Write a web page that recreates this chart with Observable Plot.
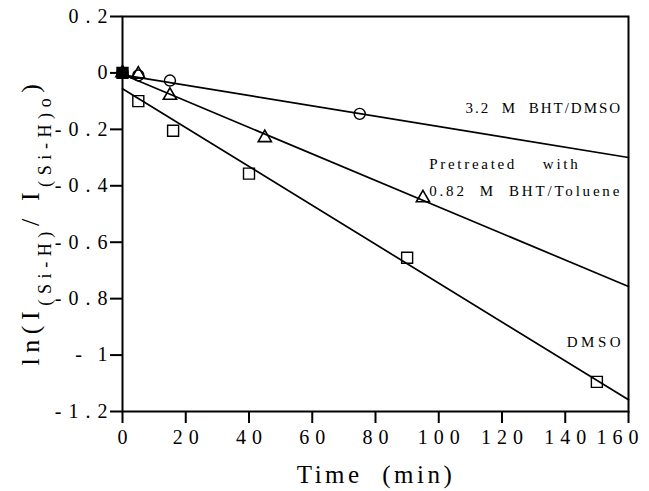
<!DOCTYPE html>
<html>
<head>
<meta charset="utf-8">
<script src="https://cdn.jsdelivr.net/npm/d3@7"></script>
<script src="https://cdn.jsdelivr.net/npm/@observablehq/plot@0.6"></script>
<style>
  html, body { margin: 0; padding: 0; background: #fff; }
</style>
</head>
<body>
<div id="chart"></div>
<script>
// Si-H decay: ln(I/I0) versus exposure time, three treatments
const squareTime = [0, 5, 16, 40, 90, 150];          // DMSO
const squareValue = [0, -0.10, -0.205, -0.357, -0.655, -1.095];
const triangleTime = [0, 5, 15, 45, 95];              // pretreated, 0.82 M BHT/Toluene
const triangleValue = [0, -0.005, -0.08, -0.23, -0.443];
const circleTime = [0, 5, 15, 75];                    // 3.2 M BHT/DMSO
const circleValue = [0, -0.009, -0.027, -0.145];

// least-squares fit lines: intercept + slope * t
const fitNames = ["BHT/DMSO", "BHT/Toluene", "DMSO"];
const fitIntercepts = [-0.007, -0.005, -0.056];
const fitSlopes = [-0.00183, -0.0047, -0.00689];
const fitRange = [0, 160];

const xTicks = [0, 20, 40, 60, 80, 100, 120, 140, 160];
const yTicks = [0.2, 0, -0.2, -0.4, -0.6, -0.8, -1, -1.2];
const yTickLabels = ["0.2", "0", "-0.2", "-0.4", "-0.6", "-0.8", "-\u200a1", "-1.2"];

const SERIF = "'Liberation Serif', 'DejaVu Serif', serif";

const toRows = (ts, vs) => ts.map((t, i) => ({t, v: vs[i]}));
const squares = toRows(squareTime, squareValue);
const triangles = toRows(triangleTime, triangleValue);
const circles = toRows(circleTime, circleValue);
const fits = fitNames.flatMap((name, k) =>
  fitRange.map(t => ({name, t, v: fitIntercepts[k] + fitSlopes[k] * t})));

const svg = Plot.plot({
  width: 649,
  height: 491,
  marginLeft: 122,
  marginRight: 21,
  marginTop: 16,
  marginBottom: 80,
  style: {background: "white", color: "black", overflow: "visible", fontFamily: SERIF},
  x: {domain: [0, 160]},
  y: {domain: [-1.2, 0.2]},
  marks: [
    Plot.frame({stroke: "black", strokeWidth: 2}),
    Plot.axisY(yTicks, {
      tickSize: 12, strokeWidth: 2, tickPadding: -4, fontSize: 20, label: null,
      tickFormat: d => yTickLabels[yTicks.indexOf(d)]
    }),
    Plot.axisX(xTicks, {
      tickSize: 12, strokeWidth: 2, tickPadding: 6, fontSize: 20, label: null,
      tickFormat: d => String(d)
    }),
    Plot.line(fits, {x: "t", y: "v", z: "name", stroke: "black", strokeWidth: 1.7}),
    Plot.dot(circles, {x: "t", y: "v", symbol: "circle", r: 5.5, stroke: "black", strokeWidth: 1.4, fill: "none"}),
    Plot.dot(triangles, {x: "t", y: "v", symbol: "triangle", r: 4.9, stroke: "black", strokeWidth: 1.6, fill: "none"}),
    Plot.dot(squares, {x: "t", y: "v", symbol: "square", r: 6.2, stroke: "black", strokeWidth: 1.4,
      fill: (d, i) => i === 0 ? "black" : "none"}),
    Plot.text(["3.2\u00a0\u00a0M\u00a0\u00a0BHT/DMSO"], {x: 158, y: -0.126, text: d => d, textAnchor: "end", fontSize: 15}),
    Plot.text(["Pretreated\u00a0\u00a0\u00a0\u00a0with"], {x: 97, y: -0.324, text: d => d, textAnchor: "start", fontSize: 15}),
    Plot.text(["0.82\u00a0\u00a0M\u00a0\u00a0BHT/Toluene"], {x: 97, y: -0.419, text: d => d, textAnchor: "start", fontSize: 15}),
    Plot.text(["DMSO"], {x: 158.6, y: -0.955, text: d => d, textAnchor: "end", fontSize: 15})
  ]
});

const root = d3.select(svg);
const byText = s => function() { return this.textContent.startsWith(s); };
root.selectAll("[aria-label='y-axis tick label'] text").style("letter-spacing", "7px");
root.selectAll("[aria-label='x-axis tick label'] text").style("letter-spacing", "6px").attr("dx", 3);
root.selectAll("[aria-label='x-axis tick label'] text").filter(function() { return this.textContent === "160"; }).attr("dx", -8);
const notes = root.selectAll("[aria-label='text'] text");
notes.style("letter-spacing", "2px");
notes.filter(byText("Pretreated")).style("letter-spacing", "2.7px");
notes.filter(byText("0.82")).style("letter-spacing", "2.8px");
notes.filter(byText("DMSO")).style("letter-spacing", "3.5px");

// axis titles
root.append("text")
  .attr("x", 376).attr("y", 483)
  .attr("text-anchor", "middle")
  .attr("font-size", 25)
  .style("letter-spacing", "3.5px")
  .text("Time\u00a0\u00a0(min)");

const ylab = root.append("text")
  .attr("transform", "translate(39,222) rotate(-90)")
  .attr("text-anchor", "middle")
  .attr("font-size", 26)
  .style("letter-spacing", "5.6px");
ylab.append("tspan").text("ln(I");
ylab.append("tspan").attr("font-size", 18).attr("dy", 12).text("(Si-H)");
ylab.append("tspan").attr("dy", -12).text("/ I");
ylab.append("tspan").attr("font-size", 18).attr("dy", 12).text("(Si-H)o");
ylab.append("tspan").attr("dy", -12).text(")");

root.selectAll("text").style("font-family", SERIF);

document.getElementById("chart").appendChild(svg);
</script>
</body>
</html>
